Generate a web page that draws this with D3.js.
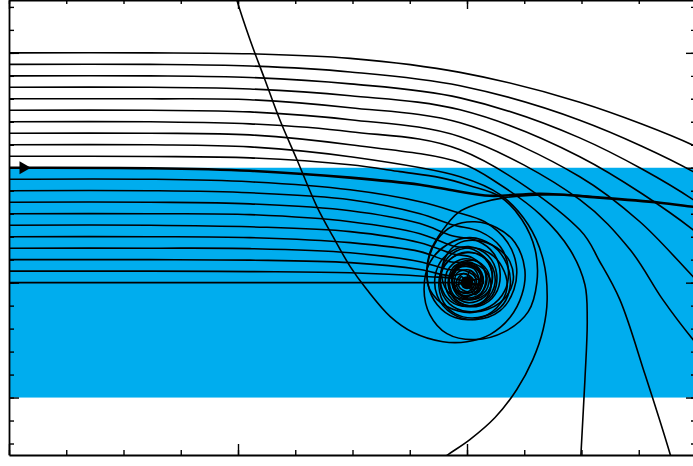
<!DOCTYPE html>
<html><head><meta charset="utf-8">
<script src="https://cdn.jsdelivr.net/npm/d3@7"></script>
<style>html,body{margin:0;padding:0;background:#fff;}svg{display:block;}</style>
</head><body>
<script>
// ---- axis / tick data (unlabelled box axes) ----
const xDomain = [0, 12];
const yDomain = [-7.5, 12.3];
const xMinorTicks = [0,1,2,3,4,5,6,7,8,9,10,11,12];
const xMajorTicks = [0,4,8,12];
const yMinorTicks = [-7,-6,-5,-4,-3,-2,-1,0,1,2,3,4,5,6,7,8,9,10,11,12];
const yMajorTicks = [-5,0,5,10];
// shaded band
const bandX = [0, 12];
const bandY = [-5, 5];
// focus (spiral sink) and arrow position
const focusPoint = [8, 0];
const arrowPoint = [0.25, 5];

// ---- trajectories entering from the left above the band ----
const upper10 = [[0,10],[2.46,10],[4.21,9.96],[5.96,9.76],[7.88,9.15],[9.97,7.85],[11.95,5.98],[12.42,5.33]];
const upper95 = [[0,9.5],[2.46,9.5],[4.21,9.43],[5.96,9.17],[7.88,8.57],[9.97,7.07],[11.95,4.83],[12.42,4.04]];
const upper9 = [[0,9],[2.46,9],[4.21,8.93],[5.96,8.65],[7.88,8.04],[9.97,6.30],[11.95,3.61],[12.42,2.65]];
const upper85 = [[0,8.5],[2.46,8.5],[4.21,8.43],[5.96,8.13],[7.88,7.52],[9.97,5.48],[11.95,2.30],[12.42,1.22]];
const upper8 = [[0,8],[2.46,8],[4.21,7.96],[5.96,7.61],[7.88,6.96],[9.97,4.61],[11.02,2.65],[11.95,0.26],[12.42,-0.96]];
const upper75 = [[0,7.5],[2.46,7.5],[4.21,7.43],[5.96,7.09],[7.88,6.35],[9.97,3.61],[10.85,1.43],[11.42,-0.74],[11.95,-2.48],[12.42,-3.78]];
const upper7 = [[0,7],[2.46,7],[4.21,6.91],[5.96,6.57],[7.88,5.78],[9.97,2.30],[10.32,0.91],[10.67,-0.74],[11.11,-4.0],[11.55,-7.48],[11.72,-9.0]];
const upper65 = [[0,6.5],[2.46,6.5],[4.21,6.43],[5.96,6.0],[7.88,5.22],[8.58,4.26],[9.28,2.96],[9.80,1.43],[10.06,-0.09],[10.10,-1.61],[10.06,-4.22],[9.99,-7.48],[9.97,-9.0]];
const upper6 = [[0,6],[2.46,6],[4.21,5.91],[5.96,5.48],[7.88,4.61],[8.58,3.83],[9.07,2.52],[9.33,1.0],[9.40,-0.74],[9.33,-2.04],[9.15,-3.35],[8.87,-4.65],[8.49,-5.87],[8.05,-6.83],[7.67,-7.48],[7.35,-8.04]];
const upper55 = [[0,5.5],[2.46,5.49],[4.21,5.43],[5.96,5.13],[6.83,4.83],[7.53,4.57],[8.05,4.22],[8.58,3.74],[8.96,2.74],[9.19,1.43],[9.22,0],[9.07,-1.26],[8.66,-2.13],[8.14,-2.48],[7.65,-2.22],[7.35,-1.39],[7.25,-0.30],[7.35,0.87],[7.65,1.65],[8.05,1.96],[8.45,1.61],[8.70,0.78],[8.75,-0.22],[8.58,-1.09],[8.19,-1.52],[7.79,-1.35],[7.55,-0.65],[7.53,0.35],[7.74,1.09],[8.09,1.30],[8.40,0.87],[8.49,0],[8.33,-0.74],[8.02,-1.00],[7.74,-0.57],[7.69,0.17],[7.88,0.74],[8.17,0.65],[8.28,-0.04],[8,0]];

// ---- separatrix entering at y = 5 (drawn heavier) ----
const boundary5 = [[0,5],[2.46,4.98],[4.21,4.87],[5.96,4.57],[7.18,4.26],[7.79,4.0],[8.40,3.78],[9.28,3.87],[10.32,3.70],[11.37,3.48],[11.95,3.30],[12.42,3.17]];

// ---- trajectories entering from the left inside the band ----
const band45 = [[0,4.5],[2.46,4.5],[4.21,4.39],[5.96,4.04],[7.18,3.52],[7.79,3.09],[8.31,2.65],[8.70,1.78],[8.86,0.78],[8.82,-0.30],[8.58,-1.22],[8.14,-1.61],[7.74,-1.35],[7.48,-0.57],[7.46,0.48],[7.67,1.26],[8.03,1.57],[8.37,1.17],[8.52,0.35],[8.44,-0.57],[8.14,-1.00],[7.83,-0.83],[7.67,-0.09],[7.79,0.74],[8.09,0.87],[8.28,0.26],[8.19,-0.43],[8,0]];
const band4 = [[0,4],[2.46,4],[4.21,3.91],[5.96,3.61],[7.18,3.0],[7.74,2.52],[8.23,2.22],[8.58,1.57],[8.72,0.65],[8.66,-0.35],[8.40,-1.04],[8.02,-1.26],[7.69,-0.91],[7.53,-0.09],[7.62,0.78],[7.91,1.30],[8.26,1.17],[8.44,0.43],[8.37,-0.39],[8.09,-0.74],[7.81,-0.39],[7.76,0.35],[7.98,0.78],[8.23,0.39],[8.17,-0.26],[8,0]];
const band35 = [[0,3.5],[2.46,3.5],[4.21,3.43],[5.96,3.13],[7.18,2.57],[7.74,2.04],[8.17,1.83],[8.47,1.26],[8.58,0.35],[8.49,-0.52],[8.23,-1.00],[7.88,-0.96],[7.65,-0.39],[7.65,0.48],[7.88,1.00],[8.19,0.91],[8.35,0.22],[8.24,-0.48],[7.98,-0.65],[7.79,-0.17],[8,0]];
const band3 = [[0,3],[2.46,3],[4.21,2.96],[5.96,2.65],[7.18,2.13],[7.74,1.61],[8.12,1.43],[8.37,0.91],[8.44,0.13],[8.31,-0.61],[8.02,-0.87],[7.76,-0.52],[7.70,0.22],[7.88,0.78],[8.16,0.70],[8.28,0.04],[8.14,-0.52],[8,0]];
const band25 = [[0,2.5],[2.46,2.5],[4.21,2.43],[5.96,2.22],[7.18,1.74],[7.74,1.26],[8.09,1.09],[8.30,0.57],[8.31,-0.17],[8.14,-0.70],[7.86,-0.61],[7.74,0],[7.86,0.65],[8.12,0.61],[8.21,-0.04],[8,0]];
const band2 = [[0,2],[2.46,2],[4.21,1.96],[5.96,1.74],[7.18,1.35],[7.70,0.91],[8.02,0.83],[8.23,0.39],[8.21,-0.30],[7.98,-0.61],[7.79,-0.22],[7.83,0.43],[8.07,0.52],[8.16,-0.09],[8,0]];
const band15 = [[0,1.5],[2.46,1.5],[4.21,1.48],[5.96,1.30],[7.18,0.91],[7.67,0.57],[7.97,0.52],[8.16,0.17],[8.10,-0.39],[7.90,-0.43],[7.81,0],[7.93,0.39],[8.10,0.13],[8,0]];
const band1 = [[0,1],[2.46,1],[4.21,0.98],[5.96,0.87],[7.18,0.57],[7.70,0.30],[7.98,0.39],[8.14,0],[8.02,-0.39],[7.86,-0.17],[7.90,0.26],[8,0]];
const band05 = [[0,0.5],[2.46,0.5],[4.21,0.48],[5.96,0.43],[7.35,0.26],[7.79,0.17],[8,0]];
const band0 = [[0,0],[4,0],[8,0]];

// ---- trajectory from the right edge spiralling into the focus ----
const fromRight = [[10.32,3.70],[9.62,3.83],[8.66,3.70],[8.19,3.43],[7.84,3.04],[7.58,2.30],[7.35,1.30],[7.30,0.43],[7.35,-0.30],[7.65,-1.04],[8.10,-1.30],[8.58,-0.87],[8.80,0],[8.75,0.91],[8.52,1.52],[8.19,1.83],[7.84,1.70],[7.62,1.09],[7.56,0.22],[7.72,-0.52],[8.05,-0.74],[8.33,-0.35],[8.38,0.39],[8.19,0.91],[7.91,0.91],[7.74,0.39],[7.81,-0.30],[8.09,-0.39],[8.21,0.09],[8.05,0.52],[8,0]];

// ---- trajectory from the top edge spiralling into the focus ----
const fromTop = [[3.91,12.96],[3.98,12.30],[4.21,10.57],[4.47,8.83],[4.73,7.09],[5.03,5.35],[5.38,3.30],[5.66,2.0],[5.96,0.70],[6.25,-0.30],[6.66,-1.48],[7.06,-2.17],[7.58,-2.57],[8,-2.57],[8.40,-2.26],[8.75,-1.52],[8.96,-0.52],[9.01,0.57],[8.84,1.74],[8.52,2.39],[8.14,2.65],[7.76,2.48],[7.48,1.87],[7.32,0.91],[7.32,-0.09],[7.48,-0.96],[7.79,-1.52],[8.17,-1.57],[8.52,-1.09],[8.70,-0.22],[8.61,0.70],[8.38,1.30],[8.05,1.52],[7.74,1.26],[7.56,0.61],[7.55,-0.17],[7.70,-0.78],[8,-1.04],[8.30,-0.78],[8.42,-0.13],[8.33,0.48],[8.10,0.83],[7.86,0.74],[7.74,0.22],[7.79,-0.35],[7.98,-0.57],[8.17,-0.35],[8.21,0.13],[8,0]];

const thinCurves = [upper10, upper95, upper9, upper85, upper8, upper75, upper7, upper65, upper6, upper55,
  band45, band4, band35, band3, band25, band2, band15, band1, band05, band0, fromRight, fromTop];

// ---- drawing ----
const W = 693, H = 466;
const x = d3.scaleLinear().domain(xDomain).range([9, 696]);
const y = d3.scaleLinear().domain(yDomain).range([455, 0]);

const svg = d3.select("body").append("svg").attr("width", W).attr("height", H);
svg.append("rect").attr("width", W).attr("height", H).attr("fill", "#fff");

svg.append("defs").append("clipPath").attr("id", "plotClip")
  .append("rect").attr("x", x(xDomain[0])).attr("y", y(yDomain[1]))
  .attr("width", x(xDomain[1]) - x(xDomain[0])).attr("height", y(yDomain[0]) - y(yDomain[1]));

const plot = svg.append("g").attr("clip-path", "url(#plotClip)");

plot.append("rect")
  .attr("x", x(bandX[0])).attr("y", y(bandY[1]))
  .attr("width", x(bandX[1]) - x(bandX[0])).attr("height", y(bandY[0]) - y(bandY[1]))
  .attr("fill", "#00adee");

const lineGen = d3.line().x(d => x(d[0])).y(d => y(d[1])).curve(d3.curveCatmullRom.alpha(0.5));

plot.selectAll("path.traj").data(thinCurves).join("path")
  .attr("class", "traj").attr("d", lineGen)
  .attr("fill", "none").attr("stroke", "#000").attr("stroke-width", 1.6);

plot.append("path").datum(boundary5).attr("d", lineGen)
  .attr("fill", "none").attr("stroke", "#000").attr("stroke-width", 2.6);

plot.append("circle").attr("cx", x(focusPoint[0])).attr("cy", y(focusPoint[1])).attr("r", 6.5).attr("fill", "#000");

plot.append("path")
  .attr("d", d3.symbol().type(d3.symbolTriangle).size(75)())
  .attr("transform", `translate(${x(arrowPoint[0])},${y(arrowPoint[1])}) rotate(90)`)
  .attr("fill", "#000");

// ---- box axes with inward ticks ----
function styleAxis(g) {
  g.selectAll("text").remove();
  g.selectAll("line").attr("stroke", "#000").attr("stroke-width", 1.4);
  g.select(".domain").attr("stroke", "#000").attr("stroke-width", 1.8);
}
function addAxis(axisFn, scale, ticks, size, transform, keepDomain) {
  const g = svg.append("g").attr("transform", transform)
    .call(axisFn(scale).tickValues(ticks).tickSizeInner(size).tickSizeOuter(0).tickFormat(""));
  styleAxis(g);
  if (!keepDomain) g.select(".domain").remove();
}
addAxis(d3.axisLeft, y, yMinorTicks, -5, `translate(${x(0)},0)`, true);
addAxis(d3.axisLeft, y, yMajorTicks, -10, `translate(${x(0)},0)`, false);
addAxis(d3.axisRight, y, yMinorTicks, -5, `translate(${x(12)},0)`, true);
addAxis(d3.axisRight, y, yMajorTicks, -10, `translate(${x(12)},0)`, false);
addAxis(d3.axisBottom, x, xMinorTicks, -5, `translate(0,${y(yDomain[0])})`, true);
addAxis(d3.axisBottom, x, xMajorTicks, -11, `translate(0,${y(yDomain[0])})`, false);
addAxis(d3.axisTop, x, xMinorTicks, -4, `translate(0,${y(yDomain[1])})`, true);
addAxis(d3.axisTop, x, xMajorTicks, -9, `translate(0,${y(yDomain[1])})`, false);
</script>
</body></html>
